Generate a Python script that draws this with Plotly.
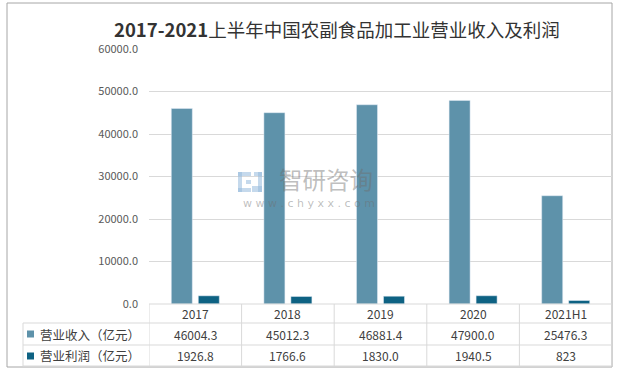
import plotly.graph_objects as go

categories = ["2017", "2018", "2019", "2020", "2021H1"]
revenue = [46004.3, 45012.3, 46881.4, 47900.0, 25476.3]
profit = [1926.8, 1766.6, 1830.0, 1940.5, 823]
revenue_labels = ["46004.3", "45012.3", "46881.4", "47900.0", "25476.3"]
profit_labels = ["1926.8", "1766.6", "1830.0", "1940.5", "823"]
series_names = ["营业收入（亿元）", "营业利润（亿元）"]
title_bold = "2017-2021"
title_rest = "上半年中国农副食品加工业营业收入及利润"

W, H = 619, 376
L, R, T, B = 149, 7, 49, 72
PW, PH = W - L - R, H - T - B

def px(x):
    return (x - L) / PW

def py(y):
    return (H - B - y) / PH

C_REV = "#5E92AA"
C_PRO = "#0E6283"
GRID = "#D9D9D9"
TXT = "#404040"
FONT = "Noto Sans CJK SC"

fig = go.Figure()
fig.add_trace(go.Bar(x=categories, y=revenue, name=series_names[0], marker_color=C_REV))
fig.add_trace(go.Bar(x=categories, y=profit, name=series_names[1], marker_color=C_PRO))

shapes = []
annotations = []

def ann(x, y, text, size, color=TXT, family=FONT, xref="paper", xanchor="center", pad=1):
    annotations.append(dict(x=x, y=y, xref=xref, yref="paper", text=text, showarrow=False,
                            xanchor=xanchor, yanchor="middle", borderpad=pad,
                            font=dict(size=size, color=color, family=family)))

# outer frame
shapes.append(dict(type="rect", xref="paper", yref="paper", x0=px(7), x1=px(612), y0=py(3), y1=py(367),
                   line=dict(color="#A6A6A6", width=1), layer="below"))

# table horizontal lines
row_y = [304, 323, 345, 366]
shapes.append(dict(type="line", xref="paper", yref="paper", x0=0, x1=1, y0=py(row_y[0]), y1=py(row_y[0]),
                   line=dict(color=GRID, width=1)))
for yy in row_y[1:]:
    shapes.append(dict(type="line", xref="paper", yref="paper", x0=px(23), x1=1, y0=py(yy), y1=py(yy),
                       line=dict(color=GRID, width=1)))
for i in range(len(categories) + 1):
    shapes.append(dict(type="line", xref="x", yref="paper", x0=i - 0.5, x1=i - 0.5,
                       y0=py(row_y[0]), y1=py(row_y[-1]), line=dict(color=GRID, width=1)))
shapes.append(dict(type="line", xref="paper", yref="paper", x0=px(23), x1=px(23),
                   y0=py(row_y[1]), y1=py(row_y[-1]), line=dict(color=GRID, width=1)))

# legend keys
for yc, col in [(334, C_REV), (356, C_PRO)]:
    shapes.append(dict(type="rect", xref="paper", yref="paper", x0=px(27), x1=px(34), y0=py(yc - 3.5), y1=py(yc + 3.5),
                       line=dict(width=0), fillcolor=col))

# table text
for i, c in enumerate(categories):
    ann(i, py(313.5), c, 12, xref="x")
    ann(i, py(334), revenue_labels[i], 12, xref="x")
    ann(i, py(355.5), profit_labels[i], 12, xref="x")
for yc, name in [(334, series_names[0]), (355.5, series_names[1])]:
    ann(px(38), py(yc), name, 12.5, xanchor="left")

# watermark
ann(px(326), py(179), "智研咨询", 23.5, color="rgba(110,110,110,0.45)", pad=0)
ann(px(309), py(203), "w w w . c h y x x . c o m", 11, color="rgba(110,110,110,0.45)", family="DejaVu Sans", pad=0)
logo = [(238, 172, 251, 176), (238, 172, 242, 192), (246, 180, 251, 184), (238, 188, 251, 192),
        (254, 172, 262, 176), (258, 172, 262, 192), (252, 186, 262, 192)]
for (a, b, c, d) in logo:
    shapes.append(dict(type="rect", xref="paper", yref="paper", x0=px(a), x1=px(c), y0=py(b), y1=py(d),
                       line=dict(width=0), fillcolor="rgba(150,185,220,0.55)"))

# title
ann(px(337), py(29), "<b>" + title_bold + "</b>" + title_rest, 18.5, color="#333333", pad=0)

fig.update_layout(
    width=W, height=H,
    margin=dict(l=L, r=R, t=T, b=B, pad=0),
    paper_bgcolor="white", plot_bgcolor="white",
    barmode="group", bargap=0.417, bargroupgap=0.222,
    showlegend=False,
    shapes=shapes, annotations=annotations,
    xaxis=dict(showticklabels=False, showgrid=False, zeroline=False, showline=False, ticks="",
               range=[-0.5, len(categories) - 0.5]),
    yaxis=dict(range=[0, 60000], dtick=10000, tickformat=".1f", showgrid=True, gridcolor=GRID, gridwidth=1,
               zeroline=False, showline=False, ticks="", ticklabelstandoff=10,
               tickfont=dict(size=11, color="#595959", family=FONT)),
)

fig.write_html("out.html", config={"displayModeBar": False},
               post_script="document.body.style.margin='0';")
